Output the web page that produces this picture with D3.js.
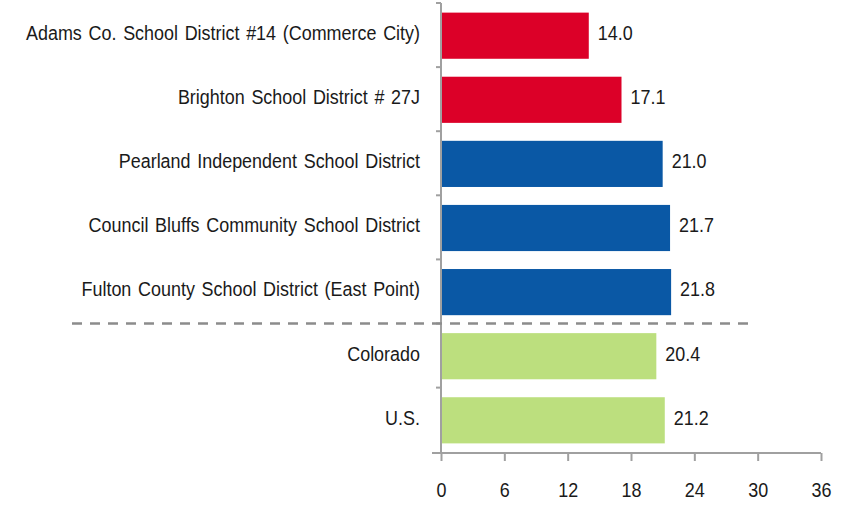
<!DOCTYPE html>
<html>
<head>
<meta charset="utf-8">
<script src="https://cdn.jsdelivr.net/npm/d3@7"></script>
<style>
  body { margin: 0; background: #fff; }
  text { font-family: "Liberation Sans Narrow", "Arial Narrow", "Liberation Sans", sans-serif; fill: #1a1a1a; }
</style>
</head>
<body>
<svg id="chart" width="841" height="506"></svg>
<script>
const categories = [
  "Adams Co. School District #14 (Commerce City)",
  "Brighton School District # 27J",
  "Pearland Independent School District",
  "Council Bluffs Community School District",
  "Fulton County School District (East Point)",
  "Colorado",
  "U.S."
];
const values = [14.0, 17.1, 21.0, 21.7, 21.8, 20.4, 21.2];
const groups = ["local", "local", "peer", "peer", "peer", "state", "state"];
const xTicks = [0, 6, 12, 18, 24, 30, 36];

const colors = { local: "#dc0028", peer: "#0a58a5", state: "#bcdf7e" };
const fontSize = 21;
const narrow = 0.855; // squeeze to mimic a condensed face

const svg = d3.select("#chart");
const margin = { top: 3, left: 441, right: 20, bottom: 53 };
const height = 506 - margin.top - margin.bottom;

const x = d3.scaleLinear().domain([0, 36]).range([0, 380]);
const y = d3.scaleBand().domain(categories).range([0, height])
  .paddingInner(0.28).paddingOuter(0.15);

const g = svg.append("g").attr("transform", `translate(${margin.left},${margin.top})`);

// bars
g.selectAll("rect.bar")
  .data(categories)
  .join("rect")
  .attr("class", "bar")
  .attr("x", 0)
  .attr("y", d => y(d))
  .attr("width", (d, i) => x(values[i]))
  .attr("height", y.bandwidth())
  .attr("fill", (d, i) => colors[groups[i]]);

// value labels
g.selectAll("text.val")
  .data(categories)
  .join("text")
  .attr("class", "val")
  .attr("transform", (d, i) => `translate(${x(values[i]) + 9},${y(d) + y.bandwidth() / 2 - 3}) scale(${narrow},1)`)
  .attr("dy", "0.35em")
  .style("font-size", fontSize + "px")
  .text((d, i) => values[i].toFixed(1));

// y axis: line with tick marks at band boundaries
const step = y.step();
const bounds = d3.range(categories.length + 1).map(i => i * step);
g.append("line")
  .attr("x1", 0).attr("x2", 0)
  .attr("y1", 0).attr("y2", height)
  .attr("stroke", "#a0a0a0").attr("stroke-width", 2);
g.selectAll("line.ytick")
  .data(bounds.slice(0, -1))
  .join("line")
  .attr("class", "ytick")
  .attr("x1", -5).attr("x2", 0)
  .attr("y1", d => d).attr("y2", d => d)
  .attr("stroke", "#a0a0a0").attr("stroke-width", 2);

// category labels
g.selectAll("text.cat")
  .data(categories)
  .join("text")
  .attr("class", "cat")
  .attr("transform", d => `translate(-21,${y(d) + y.bandwidth() / 2 - 3}) scale(${narrow},1)`)
  .attr("dy", "0.35em")
  .attr("text-anchor", "end")
  .style("font-size", fontSize + "px")
  .style("word-spacing", "2px")
  .text(d => d);

// x axis
const xAxis = g.append("g")
  .attr("transform", `translate(0,${height})`)
  .call(d3.axisBottom(x).tickValues(xTicks).tickSize(8).tickPadding(16));
xAxis.select(".domain")
  .attr("d", `M-9,0H${x(36)}`)
  .attr("stroke", "#a0a0a0").attr("stroke-width", 2);
xAxis.selectAll(".tick line").attr("stroke", "#a0a0a0").attr("stroke-width", 2);
xAxis.selectAll(".tick text")
  .attr("y", 37)
  .attr("dy", "0.35em")
  .attr("transform", `scale(${narrow},1)`)
  .style("font-size", fontSize + "px")
  .style("font-family", "'Liberation Sans Narrow', 'Arial Narrow', 'Liberation Sans', sans-serif")
  .attr("fill", "#1a1a1a");

// dashed separator between districts and state/national
const sepY = bounds[5];
g.append("line")
  .attr("x1", 72 - margin.left).attr("x2", 755 - margin.left)
  .attr("y1", sepY).attr("y2", sepY)
  .attr("stroke", "#8c8c8c")
  .attr("stroke-width", 2.5)
  .attr("stroke-dasharray", "10,8");
</script>
</body>
</html>
